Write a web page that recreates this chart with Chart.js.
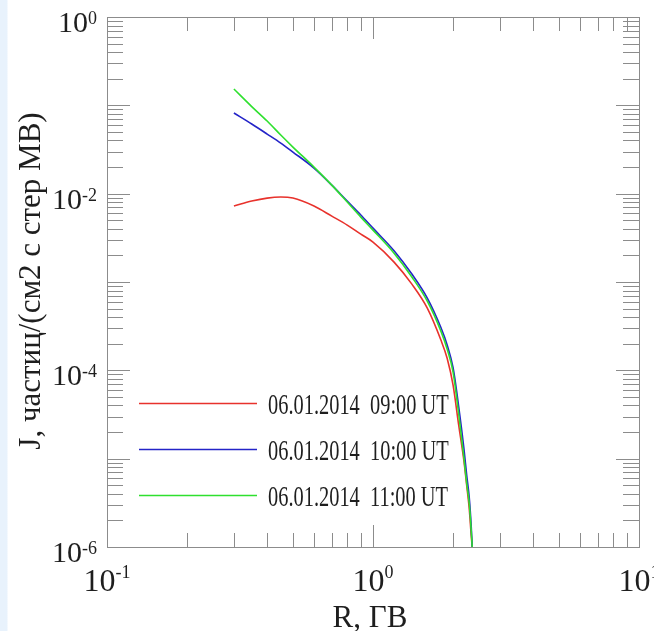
<!DOCTYPE html>
<html>
<head>
<meta charset="utf-8">
<script src="https://cdn.jsdelivr.net/npm/chart.js@4.4.1/dist/chart.umd.min.js"></script>
<style>
    html, body { margin: 0; padding: 0; }
    body { width: 654px; height: 631px; background: linear-gradient(to right, #e8f2fc 0, #e8f2fc 7px, #ffffff 8px); }
    #wrap { position: relative; width: 654px; height: 631px; }
</style>
</head>
<body>
<div id="wrap"><canvas id="spectrum" width="654" height="631"></canvas></div>
<script>
// rigidity, GV
const rigidity = [0.3, 0.35, 0.4, 0.45, 0.5, 0.6, 0.7, 0.8, 0.9, 1.0, 1.2, 1.4, 1.6, 1.8, 1.9, 2.0, 2.1, 2.2, 2.25, 2.3, 2.34, 2.36];

// flux J for each hour
const flux0900 = [7.24e-3, 8.24e-3, 8.91e-3, 9.16e-3, 8.91e-3, 7.24e-3, 5.57e-3, 4.41e-3, 3.48e-3, 2.83e-3, 1.68e-3, 9.46e-4,
    5.06e-4, 2.20e-4, 1.37e-4, 6.79e-5, 2.39e-5, 9.12e-6, 5.01e-6, 2.75e-6, 1.36e-6, 1.0e-6];
const flux1000 = [8.18e-2, 6.14e-2, 4.73e-2, 3.74e-2, 2.96e-2, 1.95e-2, 1.25e-2, 8.24e-3, 5.73e-3, 4.07e-3, 2.26e-3, 1.23e-3,
    6.58e-4, 3.05e-4, 1.94e-4, 1.07e-4, 3.87e-5, 1.25e-5, 6.50e-6, 3.66e-6, 1.72e-6, 1.0e-6];
const flux1100 = [1.53e-1, 9.68e-2, 6.64e-2, 4.61e-2, 3.37e-2, 2.00e-2, 1.25e-2, 8.04e-3, 5.43e-3, 3.87e-3, 2.12e-3, 1.14e-3,
    6.08e-4, 2.78e-4, 1.74e-4, 9.55e-5, 3.19e-5, 9.86e-6, 5.28e-6, 3.13e-6, 1.55e-6, 1.0e-6];

const seriesLabels = ['06.01.2014  09:00 UT', '06.01.2014  10:00 UT', '06.01.2014  11:00 UT'];
const seriesColors = ['#e8322c', '#2424c8', '#2ee02e'];

// tick labels are powers of ten
const xLabelPowers = [-1, 0, 1];
const yLabelPowers = [0, -2, -4, -6];

const xTitle = 'R, ГВ';
const yTitle = 'J, частиц/(см2 с стер МВ)';

const serif = '"Liberation Serif", "Times New Roman", serif';

function toPoints(ys) {
    return rigidity.map((r, i) => ({ x: r, y: ys[i] }));
}

function drawPower(ctx, p, left, base, big, small, rise) {
    ctx.font = big + 'px ' + serif;
    ctx.textAlign = 'left';
    ctx.fillText('10', left, base);
    const w = ctx.measureText('10').width;
    ctx.font = small + 'px ' + serif;
    ctx.fillText(String(p), left + w, base - rise);
}

function powerWidth(ctx, p, big, small) {
    ctx.font = big + 'px ' + serif;
    const w = ctx.measureText('10').width;
    ctx.font = small + 'px ' + serif;
    return w + ctx.measureText(String(p)).width;
}

// frame with inward ticks on all four sides
const frame = {
    id: 'frame',
    beforeDatasetsDraw(chart) {
        const { ctx, chartArea: a, scales: { x, y } } = chart;
        ctx.save();
        ctx.strokeStyle = '#8c8c8c';
        ctx.lineWidth = 1;
        ctx.beginPath();
        for (let p = -1; p < 1; p++) {
            for (let m = 1; m <= 9; m++) {
                const px = Math.round(x.getPixelForValue(m * Math.pow(10, p))) + 0.5;
                const len = m === 1 ? 22 : 14;
                ctx.moveTo(px, a.bottom); ctx.lineTo(px, a.bottom - len);
                ctx.moveTo(px, a.top); ctx.lineTo(px, a.top + len);
            }
        }
        for (let p = -6; p < 0; p++) {
            for (let m = 1; m <= 9; m++) {
                const py = Math.round(y.getPixelForValue(m * Math.pow(10, p))) + 0.5;
                const len = m === 1 ? 23 : 16;
                ctx.moveTo(a.left, py); ctx.lineTo(a.left + len, py);
                ctx.moveTo(a.right, py); ctx.lineTo(a.right - len, py);
            }
        }
        ctx.stroke();
        ctx.strokeRect(Math.round(a.left) + 0.5, Math.round(a.top) + 0.5,
            Math.round(a.right - a.left), Math.round(a.bottom - a.top));
        ctx.restore();
    },
    afterDraw(chart) {
        const { ctx, chartArea: a, scales: { x, y } } = chart;
        ctx.save();
        ctx.fillStyle = '#1e1e1e';
        ctx.textBaseline = 'alphabetic';

        // y tick labels
        yLabelPowers.forEach(p => {
            const py = y.getPixelForValue(Math.pow(10, p));
            const w = powerWidth(ctx, p, 30, 18);
            drawPower(ctx, p, a.left - 10 - w, py + 15, 30, 18, 8);
        });
        // x tick labels
        xLabelPowers.forEach(p => {
            const px = x.getPixelForValue(Math.pow(10, p));
            const w = powerWidth(ctx, p, 32, 18);
            drawPower(ctx, p, px - w / 2, a.bottom + 44, 32, 18, 13);
        });

        // axis titles
        ctx.font = '31px ' + serif;
        ctx.textAlign = 'center';
        ctx.fillText(xTitle, 370, 627);
        ctx.save();
        ctx.translate(40, 281);
        ctx.rotate(-Math.PI / 2);
        ctx.fillText(yTitle, 0, 0);
        ctx.restore();

        // legend (condensed serif text as in the original)
        ctx.font = '30px ' + serif;
        ctx.textAlign = 'left';
        chart.data.datasets.forEach((ds, i) => {
            const ly = 403 + i * 46;
            ctx.strokeStyle = ds.borderColor;
            ctx.lineWidth = 1.6;
            ctx.beginPath();
            ctx.moveTo(139, ly + 0.5);
            ctx.lineTo(257, ly + 0.5);
            ctx.stroke();
            ctx.save();
            ctx.translate(268, ly + 11);
            ctx.scale(0.68, 1);
            ctx.fillText(ds.label, 0, 0);
            ctx.restore();
        });
        ctx.restore();
    }
};

const ctx = document.getElementById('spectrum').getContext('2d');

const spectrum = new Chart(ctx, {
    type: 'line',
    data: {
        datasets: [
            { label: seriesLabels[0], data: toPoints(flux0900), borderColor: seriesColors[0], order: 2 },
            { label: seriesLabels[1], data: toPoints(flux1000), borderColor: seriesColors[1], order: 1 },
            { label: seriesLabels[2], data: toPoints(flux1100), borderColor: seriesColors[2], order: 0 },
        ]
    },
    options: {
        responsive: false,
        animation: false,
        parsing: false,
        layout: { padding: { left: 107, top: 17, right: 15, bottom: 84 } },
        elements: {
            line: { borderWidth: 1.6, cubicInterpolationMode: 'monotone', fill: false },
            point: { radius: 0 }
        },
        plugins: {
            legend: { display: false },
            tooltip: { enabled: false }
        },
        scales: {
            x: { type: 'logarithmic', min: 0.1, max: 10, display: false },
            y: { type: 'logarithmic', min: 1e-6, max: 1, display: false }
        }
    },
    plugins: [frame]
});
</script>
</body>
</html>
